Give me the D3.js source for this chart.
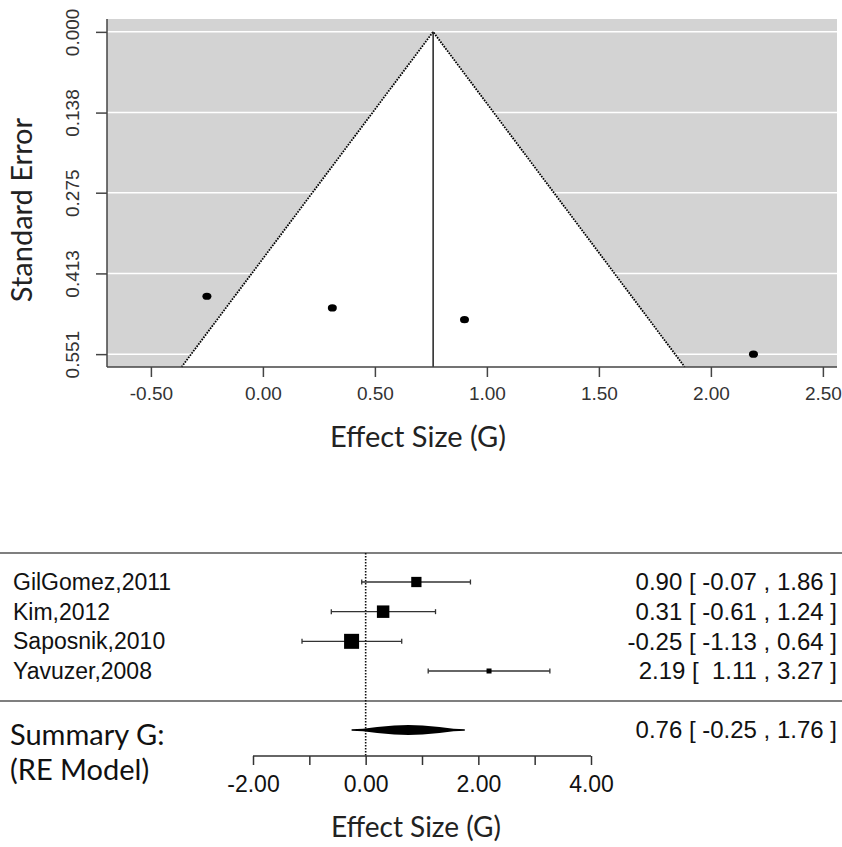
<!DOCTYPE html>
<html lang="en">
<head>
  <meta charset="UTF-8">
  <title>Funnel and forest plot</title>
  <script src="https://cdn.jsdelivr.net/npm/d3@7"></script>
  <style>
    body { margin: 0; background: #fff; }
    text { white-space: pre; }
  </style>
</head>
<body>
  <script>
    var w = 842;
    var h = 847;

    // data
    var studies = ["GilGomez,2011", "Kim,2012", "Saposnik,2010", "Yavuzer,2008"];
    var effects = [0.90, 0.31, -0.25, 2.19];
    var ciLower = [-0.07, -0.61, -1.13, 1.11];
    var ciUpper = [1.86, 1.24, 0.64, 3.27];
    var stdErrors = [0.492, 0.472, 0.452, 0.551];
    var weights = [24.6, 26.7, 29.1, 19.6];
    var summaryEst = 0.76;
    var summaryLower = -0.25;
    var summaryUpper = 1.76;

    var funnelXTicks = [-0.5, 0, 0.5, 1, 1.5, 2, 2.5];
    var funnelYTicks = [0, 0.138, 0.275, 0.413, 0.551];
    var forestTicks = [-2, -1, 0, 1, 2, 3, 4];
    var forestTickLabels = ["-2.00", "", "0.00", "", "2.00", "", "4.00"];

    // plain hyphen for minus, like R prints it
    var locale = d3.formatLocale({ decimal: ".", thousands: ",", grouping: [3], currency: ["", ""], minus: "-" })
    var fmt2 = locale.format(".2f");
    var fmt3 = locale.format(".3f");
    var fmtCI = function (v) { return v < 0 ? fmt2(v) : " " + fmt2(v) };
    var ciText = function (est, lo, hi) { return fmt2(est) + ' [ ' + fmtCI(lo) + ' , ' + fmt2(hi) + ' ]' };

    var svg = d3.select('body').append('svg').attr('width', w).attr('height', h)

    // ---------- funnel plot ----------
    var fx = d3.scaleLinear().domain([-0.696, 2.563]).range([107, 837])
    var fy = d3.scaleLinear().domain([-0.022, 0.573]).range([19, 367])
    var seMax = fy.domain()[1]

    var funnel = svg.append('g')
    funnel.append('rect')
      .attr('x', fx.range()[0]).attr('y', fy.range()[0])
      .attr('width', fx.range()[1] - fx.range()[0])
      .attr('height', fy.range()[1] - fy.range()[0])
      .attr('fill', '#d3d3d3')

    // white region inside pseudo confidence limits
    var funnelPts = [[summaryEst, 0], [summaryEst + 1.96 * seMax, seMax], [summaryEst - 1.96 * seMax, seMax]]
    funnel.append('polygon')
      .attr('points', funnelPts.map(function (p) { return fx(p[0]) + ',' + fy(p[1]) }).join(' '))
      .attr('fill', '#fff')

    // gridlines
    funnel.selectAll('line.grid').data(funnelYTicks).enter().append('line')
      .attr('class', 'grid')
      .attr('x1', fx.range()[0]).attr('x2', fx.range()[1])
      .attr('y1', function (d) { return fy(d) }).attr('y2', function (d) { return fy(d) })
      .attr('stroke', '#fff').attr('stroke-width', 1.5)

    // dotted funnel edges
    funnel.append('path')
      .attr('d', d3.line()([[fx(funnelPts[2][0]), fy(seMax)], [fx(summaryEst), fy(0)], [fx(funnelPts[1][0]), fy(seMax)]]))
      .attr('fill', 'none').attr('stroke', '#000').attr('stroke-width', 1.8)
      .attr('stroke-dasharray', '1.6,1.2')

    // vertical line at summary estimate
    funnel.append('line')
      .attr('x1', fx(summaryEst)).attr('x2', fx(summaryEst))
      .attr('y1', fy(0)).attr('y2', fy(seMax))
      .attr('stroke', '#222').attr('stroke-width', 1.5)

    // study points
    funnel.selectAll('ellipse').data(effects).enter().append('ellipse')
      .attr('cx', function (d) { return fx(d) })
      .attr('cy', function (d, i) { return fy(stdErrors[i]) })
      .attr('rx', 4.5).attr('ry', 3.6)
      .attr('fill', '#000')

    // axes
    var xAxis = d3.axisBottom(fx).tickValues(funnelXTicks).tickFormat(fmt2).tickSize(10).tickPadding(10)
    var gx = funnel.append('g').attr('transform', 'translate(0,' + fy.range()[1] + ')').call(xAxis)
    var yAxis = d3.axisLeft(fy).tickValues(funnelYTicks).tickFormat(fmt3).tickSize(11)
    var gy = funnel.append('g').attr('transform', 'translate(' + fx.range()[0] + ',0)').call(yAxis)
    gy.selectAll('.tick text')
      .attr('transform', 'rotate(-90)')
      .attr('x', 0).attr('y', -35).attr('dy', '0.35em')
      .attr('text-anchor', 'middle')
    ;[gx, gy].forEach(function (g) {
      g.select('.domain').attr('stroke', '#444').attr('stroke-width', 1.5)
      g.selectAll('.tick line').attr('stroke', '#444').attr('stroke-width', 1.5)
      g.selectAll('.tick text').attr('fill', '#333')
        .style('font-family', '"Liberation Sans", Arial, sans-serif').style('font-size', '19px')
    })
    gx.select('.domain').attr('d', 'M' + fx.range()[0] + ',0H' + fx.range()[1])
    gy.select('.domain').attr('d', 'M0,' + fy.range()[0] + 'V' + fy.range()[1])

    funnel.append('text').text('Effect Size (G)')
      .attr('x', 418).attr('y', 437).attr('dy', '0.35em')
      .attr('text-anchor', 'middle')
      .style('font-family', 'Lato, sans-serif').style('font-size', '29px').attr('fill', '#222')
    funnel.append('text').text('Standard Error')
      .attr('transform', 'translate(22,210) rotate(-90)').attr('dy', '0.35em')
      .attr('text-anchor', 'middle')
      .style('font-family', 'Lato, sans-serif').style('font-size', '29px').attr('fill', '#222')

    // ---------- forest plot ----------
    var bx = d3.scaleLinear().domain([-2, 4]).range([253, 591])
    var rowY = d3.scalePoint().domain(studies).range([582, 671])
    var boxSize = d3.scaleLinear().domain(d3.extent(weights)).range([5, 15])
    var summaryY = 730
    var forest = svg.append('g')

    forest.selectAll('line.sep').data([553, 701]).enter().append('line')
      .attr('class', 'sep')
      .attr('x1', 0).attr('x2', w)
      .attr('y1', function (d) { return d }).attr('y2', function (d) { return d })
      .attr('stroke', '#555').attr('stroke-width', 1.5)

    forest.append('line')
      .attr('x1', bx(0)).attr('x2', bx(0)).attr('y1', 553).attr('y2', 756)
      .attr('stroke', '#111').attr('stroke-width', 1.6).attr('stroke-dasharray', '1.6,1.4')

    var rows = forest.selectAll('g.row').data(studies).enter().append('g')
      .attr('class', 'row')
      .attr('transform', function (d) { return 'translate(0,' + rowY(d) + ')' })

    rows.append('line')
      .attr('x1', function (d, i) { return bx(ciLower[i]) })
      .attr('x2', function (d, i) { return bx(ciUpper[i]) })
      .attr('stroke', '#333').attr('stroke-width', 1.3)
    rows.append('line')
      .attr('x1', function (d, i) { return bx(ciLower[i]) })
      .attr('x2', function (d, i) { return bx(ciLower[i]) })
      .attr('y1', -2.5).attr('y2', 2.5)
      .attr('stroke', '#333').attr('stroke-width', 1.3)
    rows.append('line')
      .attr('x1', function (d, i) { return bx(ciUpper[i]) })
      .attr('x2', function (d, i) { return bx(ciUpper[i]) })
      .attr('y1', -2.5).attr('y2', 2.5)
      .attr('stroke', '#333').attr('stroke-width', 1.3)
    rows.append('rect')
      .attr('x', function (d, i) { return bx(effects[i]) - boxSize(weights[i]) / 2 })
      .attr('y', function (d, i) { return -boxSize(weights[i]) / 2 })
      .attr('width', function (d, i) { return boxSize(weights[i]) })
      .attr('height', function (d, i) { return boxSize(weights[i]) })
      .attr('fill', '#000')
    rows.append('text').text(function (d) { return d })
      .attr('x', 13).attr('dy', '0.35em')
      .style('font-family', '"Liberation Sans", Arial, sans-serif').style('font-size', '23px').attr('fill', '#111')
    rows.append('text')
      .text(function (d, i) { return ciText(effects[i], ciLower[i], ciUpper[i]) })
      .attr('x', 837).attr('dy', '0.35em').attr('text-anchor', 'end')
      .style('font-family', '"Liberation Sans", Arial, sans-serif').style('font-size', '24px').attr('fill', '#111')

    // summary polygon: thin tails, thick middle
    var lb = bx(summaryLower), ub = bx(summaryUpper), mid = bx(summaryEst)
    var shape = [[0, 0.8], [0.2, 1.2], [0.45, 3], [0.75, 4.5], [1, 5]]
    var upperEdge = shape.map(function (s) { return [lb + s[0] * (mid - lb), summaryY - s[1]] })
      .concat(shape.slice(0, -1).reverse().map(function (s) { return [ub - s[0] * (ub - mid), summaryY - s[1]] }))
    var lowerEdge = upperEdge.map(function (p) { return [p[0], 2 * summaryY - p[1]] }).reverse()
    forest.append('polygon')
      .attr('points', upperEdge.concat(lowerEdge).map(function (p) { return p.join(',') }).join(' '))
      .attr('fill', '#000')
    forest.append('text')
      .text(ciText(summaryEst, summaryLower, summaryUpper))
      .attr('x', 837).attr('y', summaryY).attr('dy', '0.35em').attr('text-anchor', 'end')
      .style('font-family', '"Liberation Sans", Arial, sans-serif').style('font-size', '24px').attr('fill', '#111')

    forest.append('text').text('Summary G:')
      .attr('x', 10).attr('y', 735).attr('dy', '0.35em')
      .style('font-family', 'Lato, sans-serif').style('font-size', '29px').attr('fill', '#111')
    forest.append('text').text('(RE Model)')
      .attr('x', 10).attr('y', 770).attr('dy', '0.35em')
      .style('font-family', 'Lato, sans-serif').style('font-size', '29px').attr('fill', '#111')

    var fAxis = d3.axisBottom(bx).tickValues(forestTicks)
      .tickFormat(function (d, i) { return forestTickLabels[i] }).tickSize(9).tickPadding(11)
    var gf = forest.append('g').attr('transform', 'translate(0,756)').call(fAxis)
    gf.select('.domain').attr('d', 'M' + bx(-2) + ',0H' + bx(4)).attr('stroke', '#333').attr('stroke-width', 1.5)
    gf.selectAll('.tick line').attr('stroke', '#333').attr('stroke-width', 1.5)
    gf.selectAll('.tick text').attr('fill', '#111')
      .style('font-family', '"Liberation Sans", Arial, sans-serif').style('font-size', '23px')

    forest.append('text').text('Effect Size (G)')
      .attr('x', 416).attr('y', 827).attr('dy', '0.35em')
      .attr('text-anchor', 'middle')
      .style('font-family', 'Lato, sans-serif').style('font-size', '28px').attr('fill', '#222')
  </script>
</body>
</html>
